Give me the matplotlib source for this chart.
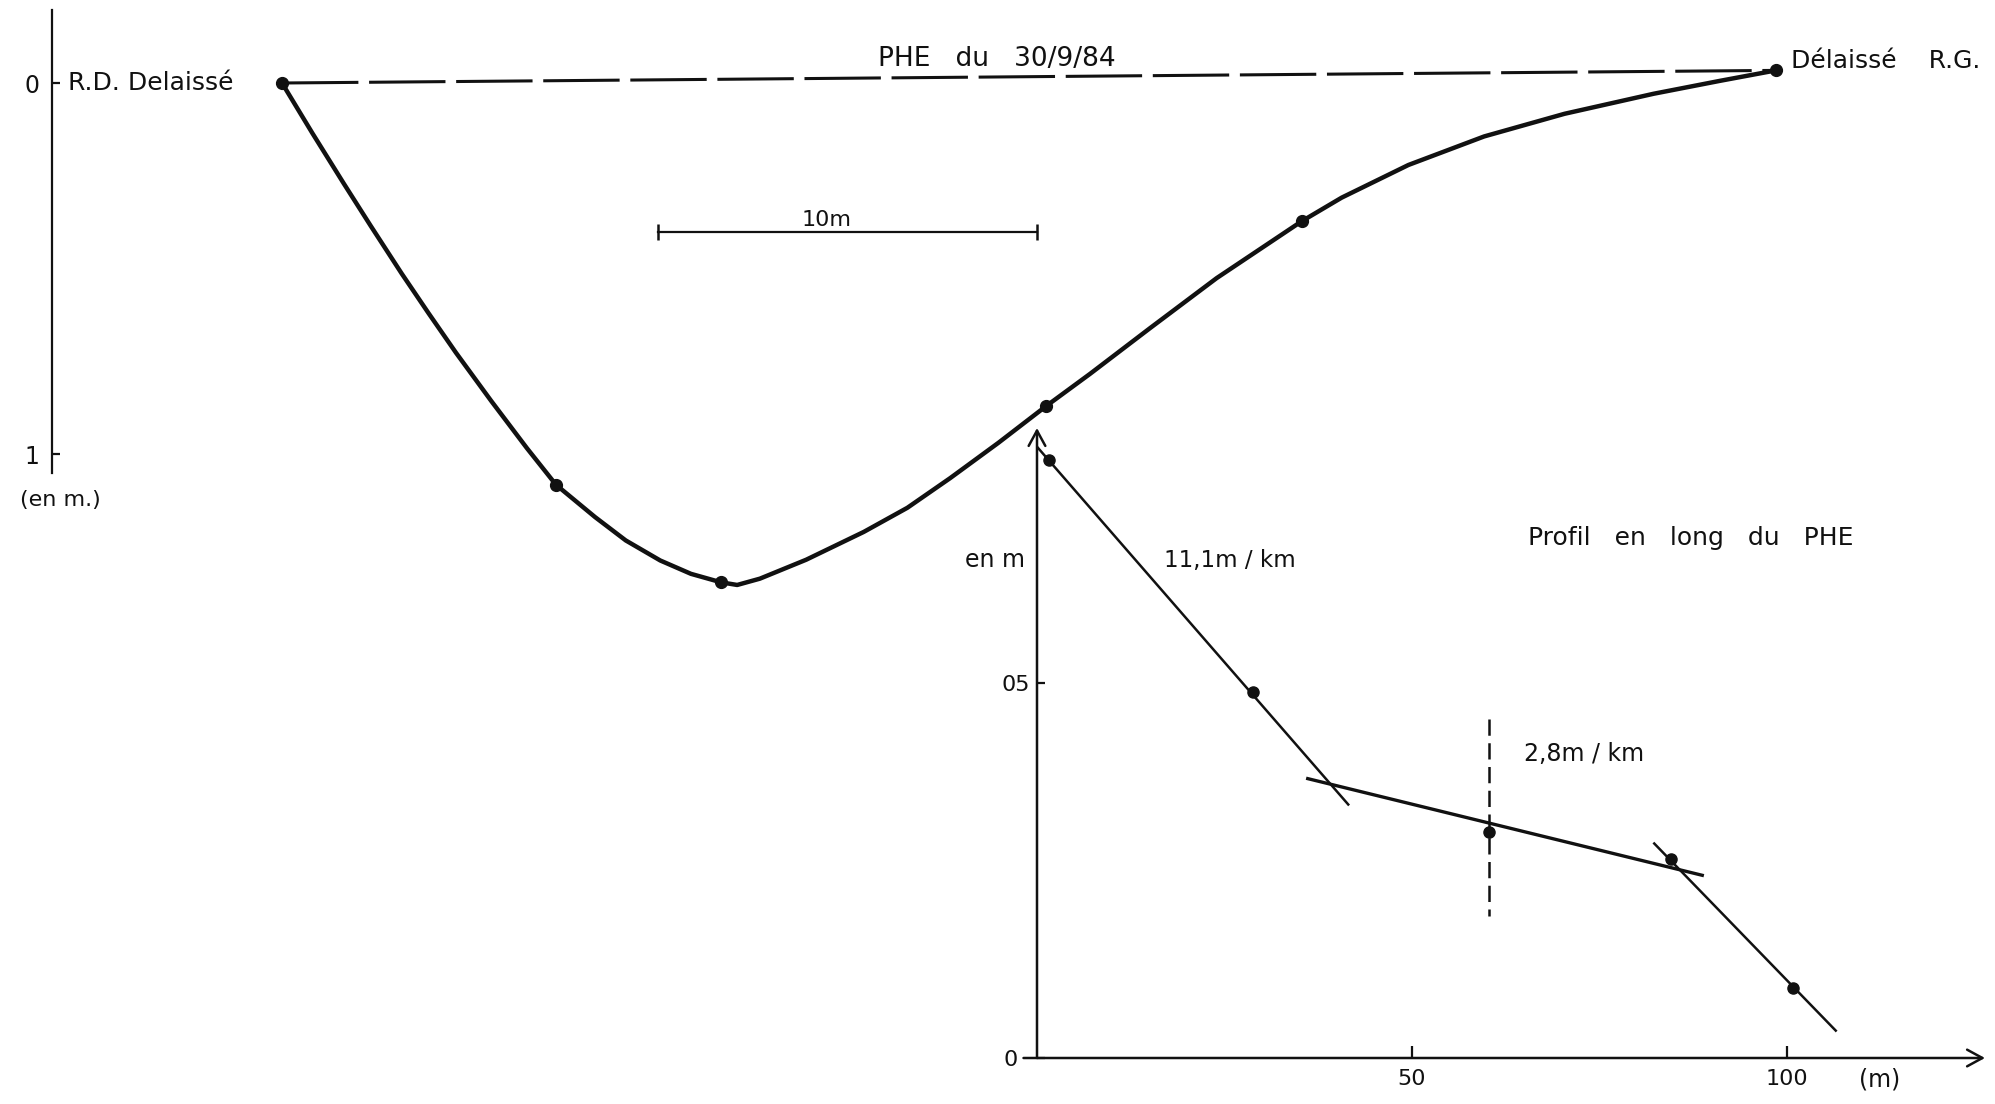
import numpy as np
import matplotlib.pyplot as plt

# --- coupe en travers : distance depuis la rive droite (m), profondeur sous la PHE (m)
prof_x = [0, 0.80, 1.63, 2.34, 3.16, 3.87, 4.59, 5.52, 6.46, 7.23, 8.26, 9.07, 9.98,
          10.79, 11.59, 12.01, 12.61, 13.83, 15.35, 16.50, 17.63, 18.90, 20.16, 21.32,
          22.90, 24.66, 26.90, 27.96, 29.72, 31.72, 33.84, 36.19, 37.95, 39.42]
prof_d = [0, 0.135, 0.271, 0.385, 0.514, 0.621, 0.727, 0.857, 0.984, 1.083, 1.170, 1.233,
          1.287, 1.323, 1.346, 1.353, 1.336, 1.285, 1.210, 1.145, 1.065, 0.970, 0.871,
          0.784, 0.661, 0.526, 0.373, 0.309, 0.221, 0.144, 0.083, 0.029, -0.006, -0.034]
pts_x = [0, 7.23, 11.59, 20.16, 26.90, 39.42]
pts_d = [0, 1.083, 1.346, 0.871, 0.373, -0.034]
phe_x = [0, 39.42]
phe_d = [0, -0.034]
scale_x = [9.92, 19.92]
scale_d = [0.402, 0.402]
depth_ticks = [0, 1]
depth_labels = ["0", "1"]

# --- profil en long du PHE : distance (m), cote (m)
long_x = [1.6, 28.8, 60.2, 84.5, 100.8]
long_z = [0.797, 0.488, 0.301, 0.266, 0.093]
seg1_x, seg1_z = [0, 41.5], [0.815, 0.338]
seg2_x, seg2_z = [36.1, 88.7], [0.3725, 0.2436]
seg3_x, seg3_z = [82.3, 106.5], [0.286, 0.0365]
cut_x, cut_z = [60.2, 60.2], [0.452, 0.189]
long_xticks, long_xlabels = [50, 100], ["50", "100"]
long_yticks, long_ylabels = [0, 0.5], ["0", "05"]

W, H = 1995, 1104
INK = "#111111"
plt.rcParams["font.family"] = ["DejaVu Sans"]

fig = plt.figure(figsize=(W / 100, H / 100), dpi=100, facecolor="white")

# main panel: 37.9 px per m across, 371 px per m in depth, origin at (282, 83) px
ax = fig.add_axes([0, 0, 1, 1])
ax.set_facecolor("none")
ax.set_xlim((0 - 282) / 37.9, (W - 282) / 37.9)
ax.set_ylim((H - 83) / 371, (0 - 83) / 371)

ax.plot(prof_x, prof_d, color=INK, lw=3.2, solid_capstyle="round", solid_joinstyle="round")
ax.plot(pts_x, pts_d, "o", color=INK, ms=8.5)
ax.plot(phe_x, phe_d, color=INK, lw=2.2, dashes=(25, 3.5))
ax.plot(scale_x, scale_d, color=INK, lw=1.6)
ax.plot(scale_x, scale_d, "|", color=INK, ms=11, mew=1.8)

for s in ["top", "right", "bottom"]:
    ax.spines[s].set_visible(False)
ax.spines["left"].set_position(("data", (52 - 282) / 37.9))
ax.spines["left"].set_bounds(-0.197, 1.05)
ax.spines["left"].set_linewidth(1.6)
ax.spines["left"].set_color(INK)
ax.set_xticks([])
ax.set_yticks(depth_ticks, depth_labels)
ax.tick_params(axis="y", direction="in", length=6, width=1.6, pad=9,
               labelsize=17, colors=INK)

ax.text(-5.65, 0, "R.D. Delaissé", fontsize=18, ha="left", va="center", color=INK)
ax.text(-5.86, 1.124, "(en m.)", fontsize=16, ha="center", va="center", color=INK)
ax.text(18.87, -0.066, "PHE   du   30/9/84", fontsize=19, ha="center", va="center",
        color=INK)
ax.text(39.82, -0.059, "Délaissé    R.G.", fontsize=18, ha="left", va="center", color=INK)
ax.text(14.38, 0.369, "10m", fontsize=16, ha="center", va="center", color=INK)

# inset: 7.5 px per m along the river, 750 px per m of height, origin at (1037, 1058) px
top_px = 420
ins = fig.add_axes([1037 / W, (H - 1058) / H, (W - 1037) / W, (1058 - top_px) / H])
ins.set_facecolor("none")
ins.set_xlim(0, (W - 1037) / 7.5)
ins.set_ylim(0, (1058 - top_px) / 750)
for s in ins.spines.values():
    s.set_visible(False)

arrow = dict(arrowstyle="->,head_length=0.55,head_width=0.3", color=INK, lw=1.8,
             shrinkA=0, shrinkB=0, mutation_scale=20)
ins.annotate("", xy=(0, 0.84), xytext=(0, 0), arrowprops=arrow, annotation_clip=False)
ins.annotate("", xy=(126.4, 0), xytext=(-1.8, 0), arrowprops=arrow, annotation_clip=False)

ins.plot(seg1_x, seg1_z, color=INK, lw=1.8)
ins.plot(seg2_x, seg2_z, color=INK, lw=2.4)
ins.plot(seg3_x, seg3_z, color=INK, lw=1.8)
ins.plot(cut_x, cut_z, color=INK, lw=1.8, dashes=(6.5, 3))
ins.plot(long_x, long_z, "o", color=INK, ms=8)

ins.set_xticks(long_xticks, long_xlabels)
ins.set_yticks(long_yticks, long_ylabels)
ins.tick_params(axis="x", direction="in", length=9, width=1.6, pad=8,
                labelsize=16, colors=INK)
ins.tick_params(axis="y", direction="in", length=6, width=1.6, pad=5,
                labelsize=16, colors=INK)
# the "0" of the inset sits further left, clear of the axis stub
ins.yaxis.get_major_ticks()[0].set_pad(14)

ins.text(-1.6, 0.664, "en m", fontsize=17, ha="right", va="center", color=INK)
ins.text(16.9, 0.664, "11,1m / km", fontsize=16.5, ha="left", va="center", color=INK)
ins.text(87.2, 0.693, "Profil   en   long   du   PHE", fontsize=18, ha="center",
         va="center", color=INK)
ins.text(64.9, 0.405, "2,8m / km", fontsize=17, ha="left", va="center", color=INK)
ins.text(112.4, -0.028, "(m)", fontsize=17, ha="center", va="center", color=INK)

fig.savefig("out.png", dpi=100, facecolor="white")
